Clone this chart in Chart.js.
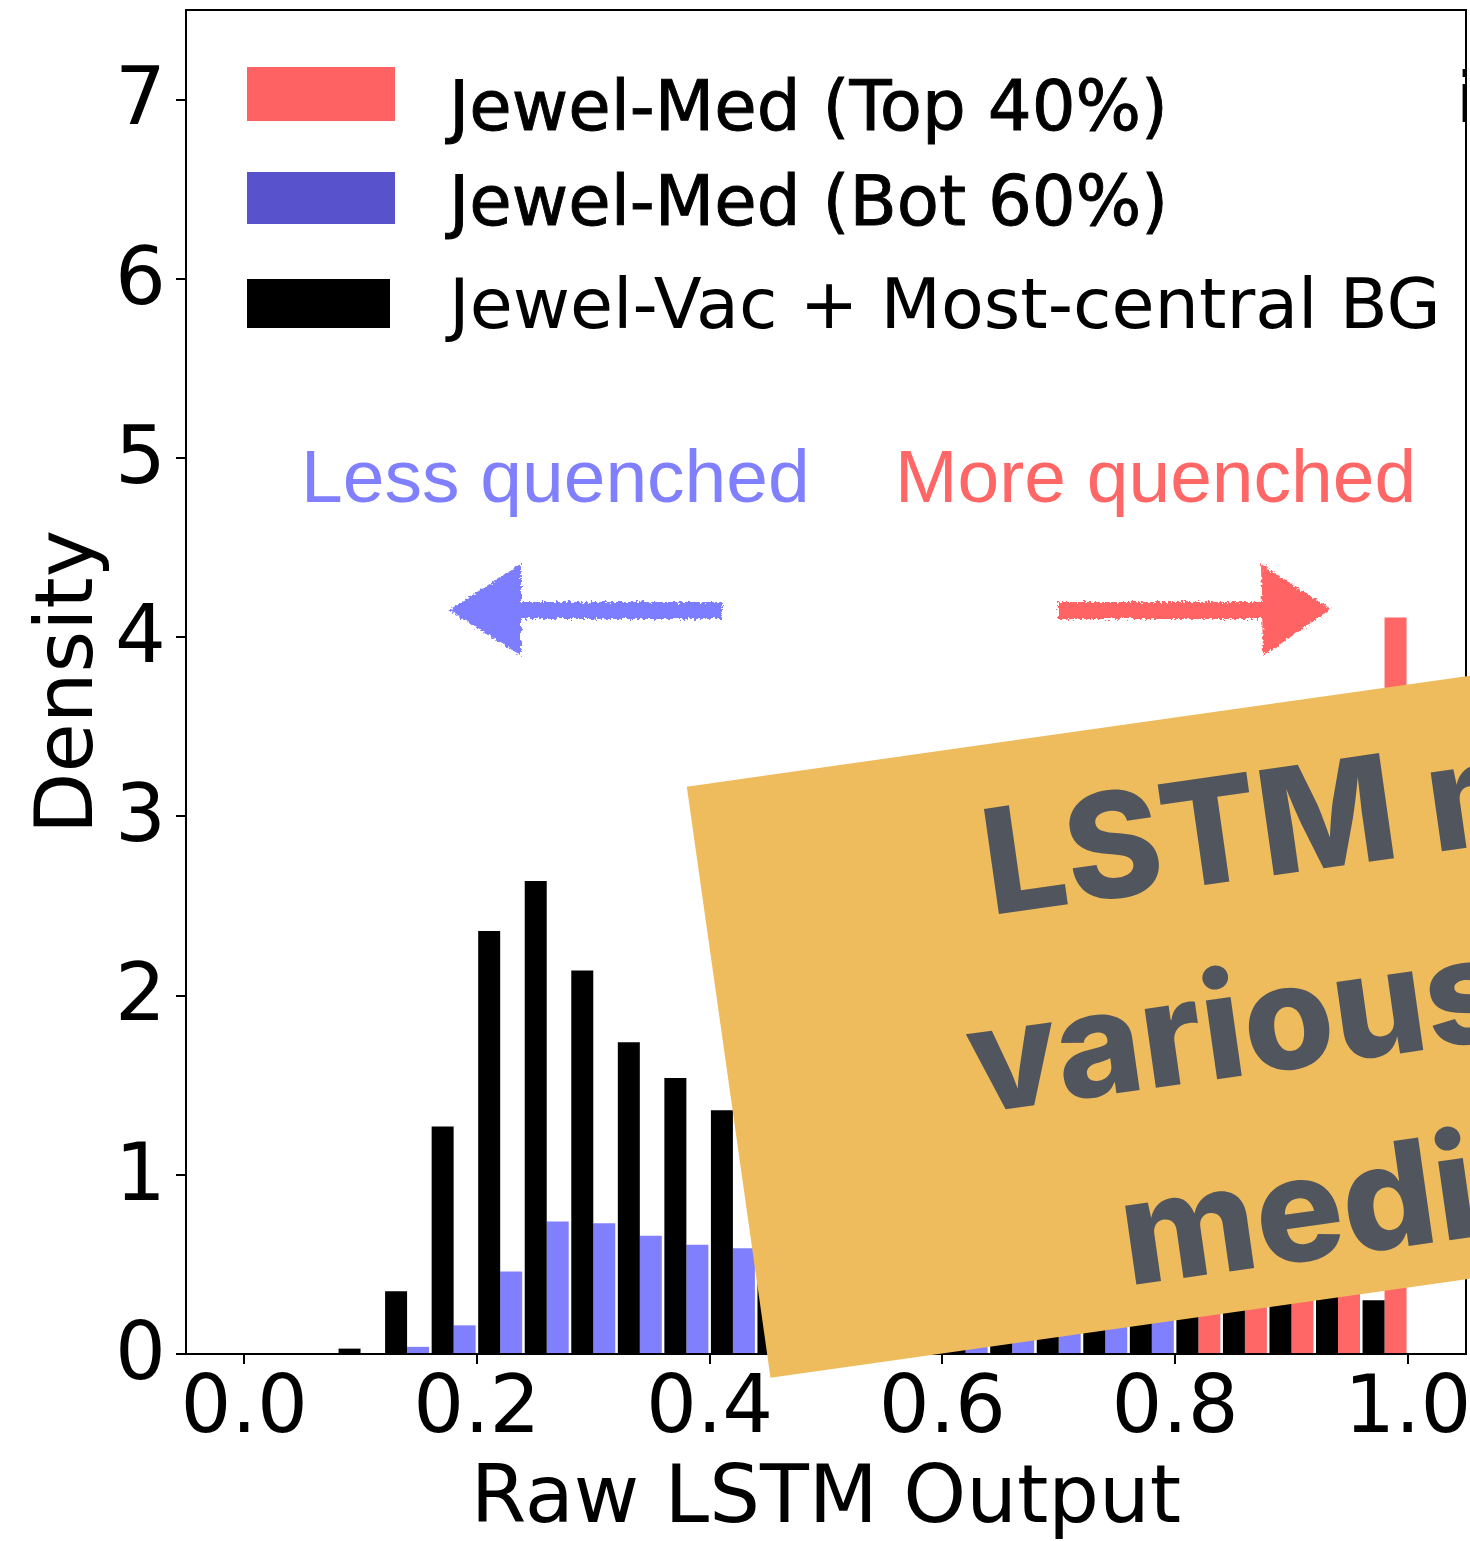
<!DOCTYPE html>
<html><head><meta charset="utf-8">
<script src="https://cdn.jsdelivr.net/npm/chart.js@4.4.0/dist/chart.umd.min.js"></script>
<style>
html,body{margin:0;padding:0;background:#fff;overflow:hidden;}
#wrap{position:relative;width:1470px;height:1541px;overflow:hidden;background:#fff;}
#c{position:absolute;left:0;top:0;}
#ov{position:absolute;left:0;top:0;pointer-events:none;}
</style></head><body>
<div id="wrap"><canvas id="c" width="1470" height="1541"></canvas>
<svg id="ov" width="1470" height="1541" xmlns="http://www.w3.org/2000/svg"></svg></div>
<script>
// ---- data ----
const binCenters = [0.02,0.06,0.10,0.14,0.18,0.22,0.26,0.30,0.34,0.38,0.42,0.46,0.50,0.54,0.58,0.62,0.66,0.70,0.74,0.78,0.82,0.86,0.90,0.94,0.98];
const vacBG    = [0,0,0.03,0.35,1.27,2.36,2.64,2.14,1.74,1.54,1.36,1.22,1.08,0.97,0.88,0.80,0.73,0.66,0.60,0.54,0.49,0.44,0.40,0.35,0.30];
const medBot60 = [0,0,0,0.04,0.16,0.46,0.74,0.73,0.66,0.61,0.59,0.56,0.53,0.50,0.48,0.46,0.45,0.43,0.42,0.40,0,0,0,0,0];
const medTop40 = [0,0,0,0,0,0,0,0,0,0,0,0,0,0,0,0,0,0,0,0,2.6,2.9,3.2,3.4,4.11];
const seriesLabels = ['Jewel-Med (Top 40%)','Jewel-Med (Bot 60%)','Jewel-Vac + Most-central BG'];
const xTicks = [0,0.2,0.4,0.6,0.8,1.0];
const yTicks = [0,1,2,3,4,5,6,7];
const xTitle = 'Raw LSTM Output';
const yTitle = 'Density';
const annotLeft = 'Less quenched';
const annotRight = 'More quenched';
const boxLines = ['LSTM models', 'various jet', 'medium'];

const barColors = ['#000000', '#8080FF', '#FF6666'];
const legendColors = ['#FF6262', '#5852CD', '#000000'];

const pts = arr => binCenters.map((x, i) => ({x: x, y: arr[i]}));
const tickFont = {family: 'DejaVu Sans', size: 80};

const spines = {
  id: 'spines',
  afterDraw(chart) {
    const {ctx, chartArea: a} = chart;
    ctx.save();
    ctx.strokeStyle = '#000';
    ctx.lineWidth = 2;
    ctx.beginPath();
    ctx.moveTo(a.left, a.top); ctx.lineTo(a.right, a.top); ctx.lineTo(a.right, a.bottom);
    ctx.stroke();
    ctx.restore();
  }
};

new Chart(document.getElementById('c'), {
  type: 'bar',
  data: {
    datasets: [
      {label: seriesLabels[2], data: pts(vacBG), backgroundColor: barColors[0], stack: 'a'},
      {label: seriesLabels[1], data: pts(medBot60), backgroundColor: barColors[1], stack: 'b'},
      {label: seriesLabels[0], data: pts(medTop40), backgroundColor: barColors[2], stack: 'b'}
    ]
  },
  options: {
    responsive: false,
    devicePixelRatio: 1,
    animation: false,
    categoryPercentage: 0.945,
    barPercentage: 1.0,
    layout: {padding: {top: 10, right: 4, left: 0, bottom: 0}},
    plugins: {legend: {display: false}, tooltip: {enabled: false}},
    scales: {
      x: {
        type: 'linear', min: -0.05, max: 1.05, stacked: true, offset: false,
        afterBuildTicks: s => { s.ticks = xTicks.map(v => ({value: v})); },
        afterFit: s => { s.height = 187; s.paddingLeft = 0; s.paddingRight = 0; },
        ticks: {font: tickFont, color: '#000', padding: -1, maxRotation: 0, autoSkip: false,
                callback: v => Number(v).toFixed(1)},
        grid: {offset: false, drawOnChartArea: false, drawTicks: true, tickLength: 10, color: '#000', lineWidth: 2},
        border: {display: true, color: '#000', width: 2},
        title: {display: true, text: xTitle, font: {family: 'DejaVu Sans', size: 80, lineHeight: 1.0}, color: '#000', padding: {top: 0, bottom: 0}}
      },
      y: {
        type: 'linear', min: 0, max: 7.5, stacked: false,
        afterBuildTicks: s => { s.ticks = yTicks.map(v => ({value: v})); },
        afterFit: s => { s.width = 186; s.paddingTop = 0; s.paddingBottom = 0; },
        ticks: {font: tickFont, color: '#000', padding: 10, labelOffset: 4, callback: v => String(v)},
        grid: {drawOnChartArea: false, drawTicks: true, tickLength: 10, color: '#000', lineWidth: 2},
        border: {display: true, color: '#000', width: 2},
        title: {display: true, text: yTitle, font: tickFont, color: '#000', padding: {top: 23, bottom: 0}}
      }
    }
  },
  plugins: [spines]
});

// ---- overlay (legend, annotations, sticker) ----
const NS = 'http://www.w3.org/2000/svg';
const svg = document.getElementById('ov');
function el(tag, attrs, parent, text) {
  const e = document.createElementNS(NS, tag);
  for (const k in attrs) e.setAttribute(k, attrs[k]);
  if (text !== undefined) e.textContent = text;
  (parent || svg).appendChild(e);
  return e;
}
const defs = el('defs', {});
const f = el('filter', {id: 'rough', x: '-10%', y: '-30%', width: '120%', height: '160%'}, defs);
el('feTurbulence', {type: 'fractalNoise', baseFrequency: '0.35', numOctaves: '2', seed: '4', result: 'n'}, f);
el('feDisplacementMap', {in: 'SourceGraphic', in2: 'n', scale: '7', xChannelSelector: 'R', yChannelSelector: 'G'}, f);
const cp = el('clipPath', {id: 'plotclip'}, defs);
el('rect', {x: 0, y: 0, width: 1466, height: 1541}, cp);

// legend
const legRects = [[247, 67, 148, 54], [247, 172, 148, 52], [247, 279, 143, 49]];
const legBase = [130, 225, 328];
for (let i = 0; i < 3; i++) {
  const r = legRects[i];
  el('rect', {x: r[0], y: r[1], width: r[2], height: r[3], fill: legendColors[i]});
  const t = el('text', {x: 449, y: legBase[i], 'font-family': 'DejaVu Sans', 'font-size': i < 2 ? 69 : 70, fill: '#000'}, null, seriesLabels[i]);
  if (i < 2) { t.setAttribute('stroke', '#000'); t.setAttribute('stroke-width', '0.9'); }
}
el('text', {x: 1456, y: 122, 'font-family': 'DejaVu Sans', 'font-size': 70, fill: '#000', 'clip-path': 'url(#plotclip)'}, null, 'i');

// annotations
el('text', {x: 301, y: 502, 'font-family': 'Liberation Sans', 'font-size': 75, fill: '#8080FF'}, null, annotLeft);
el('text', {x: 895, y: 502, 'font-family': 'Liberation Sans', 'font-size': 75, fill: '#FF6666'}, null, annotRight);
const ga = el('g', {filter: 'url(#rough)', fill: '#7D7DFF'});
el('rect', {x: 512, y: 602, width: 210, height: 17}, ga);
el('polygon', {points: '449,610 521,564 521,656'}, ga);
const gb = el('g', {filter: 'url(#rough)', fill: '#FF6464'});
el('rect', {x: 1058, y: 602, width: 208, height: 17}, gb);
el('polygon', {points: '1261,564 1263,656 1331,609'}, gb);

// sticker
const g = el('g', {transform: 'translate(686.8,786.7) rotate(-8.06)'});
el('rect', {x: 0, y: 0, width: 1150, height: 597, fill: '#EEBC5C'}, g);
const bx = [283, 240, 367], by = [170, 364, 556];
for (let i = 0; i < 3; i++) {
  el('text', {x: bx[i], y: by[i], 'font-family': 'Inter', 'font-weight': 800, 'font-size': 146, fill: '#51565E'}, g, boxLines[i]);
}
</script>
</body></html>
